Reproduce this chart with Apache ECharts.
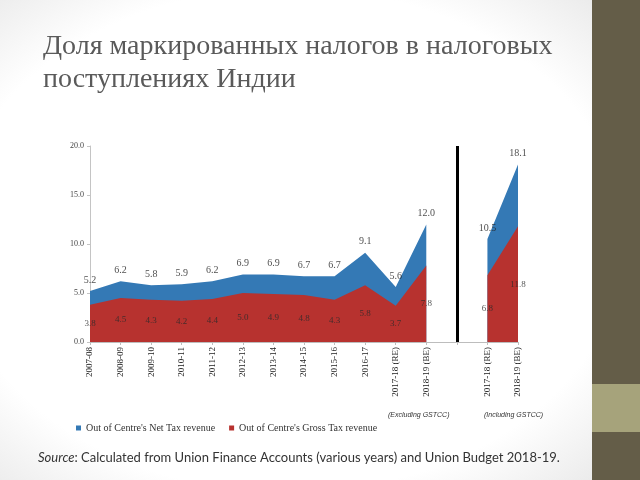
<!DOCTYPE html>
<html>
<head>
<meta charset="utf-8">
<script src="https://cdn.jsdelivr.net/npm/echarts@6/dist/echarts.min.js"></script>
<style>
html,body{margin:0;padding:0;width:640px;height:480px;overflow:hidden;}
body{background:radial-gradient(ellipse 75% 75% at 45% 50%, #ffffff 70%, #e4e4e4 100%);}
#sidebar{position:absolute;left:592px;top:0;width:48px;height:480px;background:#645d48;}
#strip{position:absolute;left:592px;top:384px;width:48px;height:48px;background:#a6a37b;}
#chart{position:absolute;left:0;top:0;width:640px;height:480px;}
</style>
</head>
<body>
<div id="sidebar"></div><div id="strip"></div>
<div id="chart"></div>
<script>
const titleText = "Доля маркированных налогов в налоговых\nпоступлениях Индии";
const categories = ["2007-08","2008-09","2009-10","2010-11","2011-12","2012-13","2013-14","2014-15","2015-16","2016-17","2017-18 (RE)","2018-19 (BE)"," ","2017-18 (RE)","2018-19 (BE)"];
const netShare   = [5.2, 6.2, 5.8, 5.9, 6.2, 6.9, 6.9, 6.7, 6.7, 9.1, 5.6, 12.0, null, 10.5, 18.1];
const grossShare = [3.8, 4.5, 4.3, 4.2, 4.4, 5.0, 4.9, 4.8, 4.3, 5.8, 3.7, 7.8, null, 6.8, 11.8];
const yTicks = [0, 5, 10, 15, 20];
const seriesNames = ["Out of Centre's Net Tax revenue", "Out of Centre's Gross Tax revenue"];
const groupNotes = ["(Excluding GSTCC)", "(Including GSTCC)"];
const sourceLabel = "Source";
const sourceText = ": Calculated from Union Finance Accounts (various years) and Union Budget 2018-19.";

const BLUE = '#3479b5', RED = '#b7322f';
const serif = 'Liberation Serif';

const chart = echarts.init(document.getElementById('chart'));
const netLabelData = netShare.map((v, i) => v == null ? null : {value: [i, v], raw: v});
const grossLabelData = grossShare.map((v, i) => v == null ? null : {value: [i, v / 2], raw: v});

chart.setOption({
  animation: false,
  title: {
    text: titleText, left: 38, top: 25,
    textStyle: {fontFamily: serif, fontSize: 28, fontWeight: 'normal', color: '#5a5a5a', lineHeight: 33}
  },
  grid: {left: 90, right: 122, top: 146, bottom: 138},
  legend: {
    data: seriesNames, left: 71, top: 418, itemWidth: 5, itemHeight: 5, itemGap: 14,
    icon: 'rect',
    textStyle: {fontFamily: serif, fontSize: 10, color: '#333'}
  },
  xAxis: {
    type: 'category', data: categories, boundaryGap: false,
    axisLine: {lineStyle: {color: '#bdbdbd', width: 1}},
    axisTick: {show: true, alignWithLabel: true, length: 3, lineStyle: {color: '#bdbdbd'}},
    axisLabel: {rotate: 90, interval: 0, fontFamily: serif, fontSize: 9, color: '#222', margin: 5}
  },
  yAxis: {
    type: 'value', min: yTicks[0], max: yTicks[yTicks.length - 1], interval: yTicks[1] - yTicks[0],
    splitLine: {show: false},
    axisLine: {show: true, lineStyle: {color: '#c4c4c4'}},
    axisTick: {show: true, length: 3, lineStyle: {color: '#c4c4c4'}},
    axisLabel: {formatter: v => v.toFixed(1), fontFamily: serif, fontSize: 8, color: '#444', margin: 6}
  },
  series: [
    {
      name: seriesNames[0], type: 'line', data: netShare, symbol: 'none',
      connectNulls: false,
      lineStyle: {width: 0, color: BLUE}, itemStyle: {color: BLUE},
      areaStyle: {color: BLUE, opacity: 1},
      markLine: {
        silent: true, symbol: 'none', label: {show: false},
        lineStyle: {color: '#000', width: 3, type: 'solid'},
        data: [[{coord: [12, 0]}, {coord: [12, 20]}]]
      },
      z: 2
    },
    {
      name: seriesNames[1], type: 'line', data: grossShare, symbol: 'none', connectNulls: false,
      lineStyle: {width: 0, color: RED}, itemStyle: {color: RED},
      areaStyle: {color: RED, opacity: 1},
      z: 3
    },
    {
      name: 'netLabels', type: 'scatter', data: netLabelData, symbolSize: 0,
      silent: true, z: 4,
      label: {show: true, position: 'top', distance: 6, fontFamily: serif, fontSize: 10, color: '#222',
              formatter: p => p.data.raw.toFixed(1)}
    },
    {
      name: 'grossLabels', type: 'scatter', data: grossLabelData, symbolSize: 0,
      silent: true, z: 4,
      label: {show: true, position: 'inside', fontFamily: serif, fontSize: 9, color: '#2a2a2a',
              formatter: p => p.data.raw.toFixed(1)}
    }
  ],
  graphic: [
    {type: 'text', left: 388, top: 412, style: {text: groupNotes[0], font: 'italic 7px "Liberation Sans"', fill: '#333'}},
    {type: 'text', left: 484, top: 412, style: {text: groupNotes[1], font: 'italic 7px "Liberation Sans"', fill: '#333'}},
    {type: 'text', left: 38, top: 451, style: {
      text: '{i|' + sourceLabel + '}{n|' + sourceText + '}',
      rich: {i: {fontFamily: 'Lato', fontStyle: 'italic', fontSize: 13, fill: '#333'},
             n: {fontFamily: 'Lato', fontSize: 13, fill: '#333'}}
    }}
  ]
});
</script>
</body>
</html>
